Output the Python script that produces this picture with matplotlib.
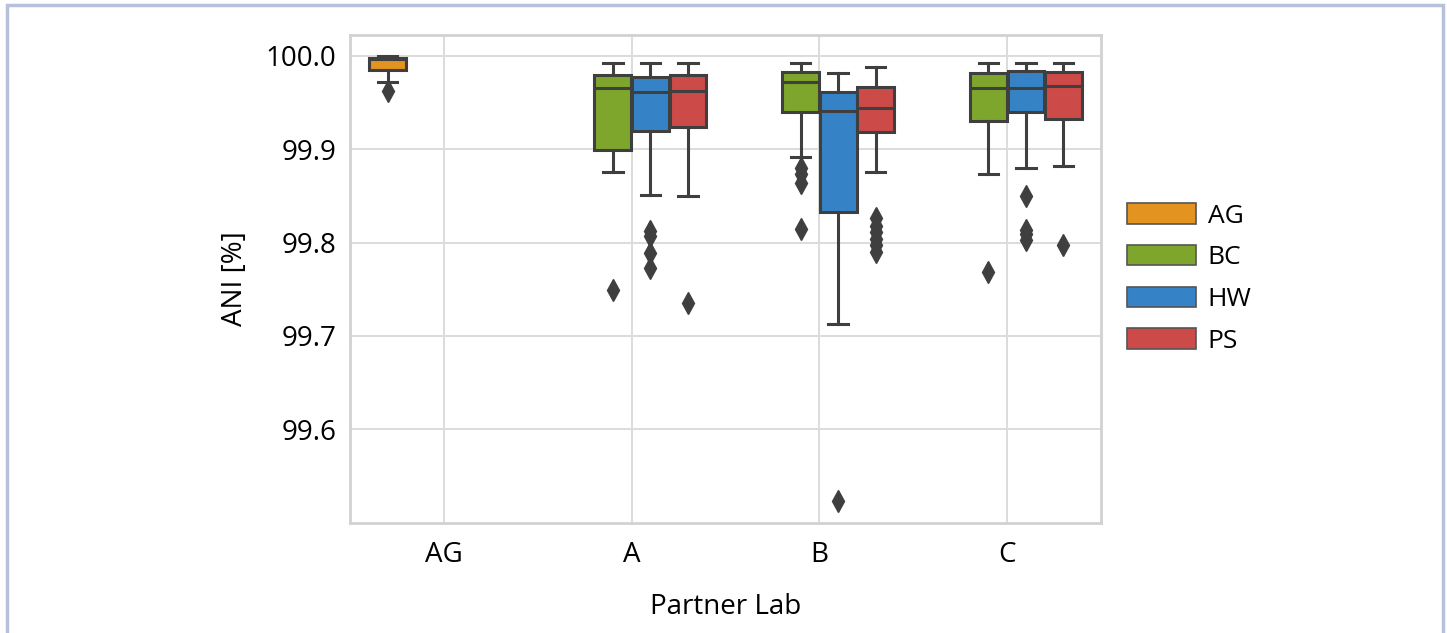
import matplotlib.pyplot as plt
from matplotlib.patches import Patch, Rectangle

plt.rcParams['font.family'] = ['Open Sans', 'DejaVu Sans']

labs = ['AG', 'A', 'B', 'C']
hues = ['AG', 'BC', 'HW', 'PS']
colors = ['#e3931f', '#7ea52c', '#3583c6', '#cc4a48']

# box stats per (lab, hue): whislo, q1, med, q3, whishi, fliers
ag_ag = [99.972, 99.985, 99.997, 99.998, 100.0, [99.962]]
a_bc = [99.876, 99.899, 99.966, 99.980, 99.993, [99.749]]
a_hw = [99.851, 99.920, 99.961, 99.977, 99.9925, [99.812, 99.807, 99.789, 99.773]]
a_ps = [99.850, 99.924, 99.963, 99.980, 99.992, [99.735]]
b_bc = [99.892, 99.940, 99.972, 99.9826, 99.993, [99.880, 99.873, 99.864, 99.815]]
b_hw = [99.713, 99.8324, 99.9415, 99.961, 99.982, [99.523]]
b_ps = [99.876, 99.919, 99.944, 99.967, 99.988, [99.826, 99.818, 99.811, 99.804, 99.797, 99.790]]
c_bc = [99.873, 99.930, 99.9655, 99.982, 99.992, [99.768]]
c_hw = [99.880, 99.940, 99.966, 99.984, 99.993, [99.850, 99.814, 99.809, 99.803]]
c_ps = [99.882, 99.933, 99.968, 99.983, 99.993, [99.797]]

boxes = [
    (0, 0, ag_ag),
    (1, 1, a_bc), (1, 2, a_hw), (1, 3, a_ps),
    (2, 1, b_bc), (2, 2, b_hw), (2, 3, b_ps),
    (3, 1, c_bc), (3, 2, c_hw), (3, 3, c_ps),
]

fig = plt.figure(figsize=(14.47, 6.33), dpi=100)
ax = fig.add_axes([0.2419, 0.1738, 0.519, 0.7709])

lc = '#3f3f3f'
lw = 2.2
hw = 0.8 / len(hues)
for li, hi, s in boxes:
    st = dict(whislo=s[0], q1=s[1], med=s[2], q3=s[3], whishi=s[4], fliers=s[5])
    pos = li - 0.4 + hw * (hi + 0.5)
    b = ax.bxp([st], positions=[pos], widths=hw * 0.98, patch_artist=True,
               showfliers=True, manage_ticks=False,
               boxprops=dict(facecolor=colors[hi], edgecolor=lc, linewidth=lw),
               medianprops=dict(color=lc, linewidth=lw),
               whiskerprops=dict(color=lc, linewidth=lw),
               capprops=dict(color=lc, linewidth=lw),
               flierprops=dict(marker='d', markerfacecolor=lc, markeredgecolor=lc,
                               markersize=11))
    for c in b['caps']:
        x = c.get_xdata()
        m = (x[0] + x[1]) / 2
        c.set_xdata([m - hw * 0.26, m + hw * 0.26])

ax.set_xlim(-0.5, 3.5)
ax.set_ylim(99.4995, 100.0225)
ax.set_xticks(range(len(labs)))
ax.set_xticklabels(labs)
ax.set_yticks([99.6, 99.7, 99.8, 99.9, 100.0])
ax.set_yticklabels(['99.6', '99.7', '99.8', '99.9', '100.0'])
ax.tick_params(length=0, labelsize=20, pad=10)
ax.tick_params(axis='x', pad=13)
ax.grid(True, color='#dcdcdc', linewidth=1.4)
ax.set_axisbelow(True)
for sp in ax.spines.values():
    sp.set_color('#d2d2d2')
    sp.set_linewidth(2)
ax.set_xlabel('Partner Lab', fontsize=20, labelpad=17)
ax.set_ylabel('ANI [%]', fontsize=20, labelpad=12)

handles = [Patch(facecolor=colors[i], edgecolor='#555555', linewidth=1.2, label=hues[i])
           for i in range(len(hues))]
fig.legend(handles=handles, loc='center left', bbox_to_anchor=(0.7625, 0.56),
           frameon=False, fontsize=19, handlelength=2.6, handleheight=0.8,
           labelspacing=0.62, handletextpad=0.45)

fig.add_artist(Rectangle((0.005, -0.05), 0.992, 1.042, transform=fig.transFigure,
                         fill=False, edgecolor='#b7c1dc', linewidth=2.5))

fig.savefig('out.png', dpi=100)
